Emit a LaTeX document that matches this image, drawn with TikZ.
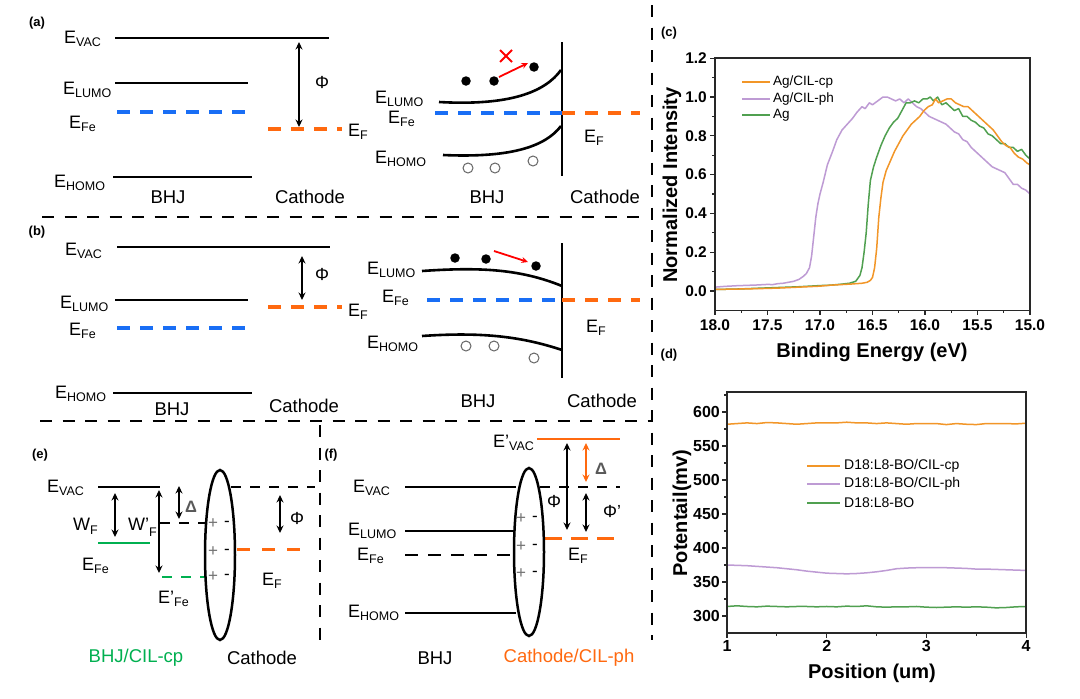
\documentclass[tikz,border=0pt]{standalone}
\usepackage{fontspec}
\setmainfont{Liberation Sans}
\usetikzlibrary{arrows.meta}
\newcommand\fs[1]{\fontsize{#1}{#1}\selectfont}
\newcommand\Es[2]{#1\raisebox{-3pt}{\fs{12.5}#2}}
\definecolor{eblue}{RGB}{25,110,245}
\definecolor{eorange}{RGB}{255,105,15}
\definecolor{egreen}{RGB}{0,176,80}
\definecolor{porange}{RGB}{242,150,40}
\definecolor{ppurple}{RGB}{190,155,212}
\definecolor{pgreen}{RGB}{80,160,80}
\definecolor{axgray}{RGB}{40,40,40}
\begin{document}
\begin{tikzpicture}[x=1pt,y=-1pt,
  lvl/.style={line width=2.6pt},
  ddash/.style={line width=3.2pt, dash pattern=on 13pt off 10pt},
  sdash/.style={line width=2.6pt, dash pattern=on 10pt off 9pt},
  sep/.style={line width=2.6pt, dash pattern=on 12pt off 10.5pt},
  darr/.style={line width=2pt, {Stealth[length=7.5pt,width=7pt]}-{Stealth[length=7.5pt,width=7pt]}},
  redarr/.style={line width=1.8pt, red, -{Stealth[length=6.5pt,width=6pt]}},
  elab/.style={anchor=base west, inner sep=0pt, font=\fs{18}},
  tlab/.style={inner sep=0pt, font=\fs{18.5}},
  plab/.style={inner sep=0pt, font=\fs{13}\bfseries},
  elec/.style={circle, fill=black, inner sep=0pt, minimum size=9.5pt},
  hole/.style={circle, draw=black!60, line width=1pt, inner sep=0pt, minimum size=10pt},
  pm/.style={inner sep=0pt, font=\fs{17}},
  dl/.style={inner sep=0pt, font=\fs{16.5}\bfseries, text=black!65},
  ph/.style={inner sep=0pt, font=\fs{17.5}},
  tick/.style={line width=1.2pt, axgray},
  ctl/.style={inner sep=0pt, font=\fs{15.5}\bfseries},
  ttl/.style={inner sep=0pt, font=\fs{20}\bfseries},
  leg/.style={anchor=west, inner sep=0pt, font=\fs{13.5}},
  curve/.style={line width=1.5pt, line join=round}
]
\useasboundingbox[fill=white] (0,0) rectangle (1080,699);

% ---------- separators ----------
\draw[sep] (42,217) -- (648,217);
\draw[sep] (40,421) -- (652,421);
\draw[sep] (652,5) -- (652,640);
\draw[sep] (320,425) -- (320,647);

% ---------- panel labels ----------
\node[plab] (la) at (37,23) {(a)};
\node[plab] (lb) at (37,232) {(b)};
\node[plab] (le) at (40,455) {(e)};
\node[plab] (lf) at (331,455) {(f)};
\node[plab] (lc) at (669,33) {(c)};
\node[plab] (ld) at (669,355) {(d)};

% ---------- (a) left ----------
\draw[lvl] (115,38) -- (329,38);
\draw[lvl] (115,83) -- (248,83);
\draw[ddash,eblue] (117,112) -- (245,112);
\draw[lvl] (113,177) -- (252,177);
\draw[ddash,eorange] (268,129) -- (342,129);
\coordinate (aPt) at (299,42); \coordinate (aPb) at (299,127);
\draw[darr] (aPt) -- (aPb);
\node[ph] (aPhi) at (322,82) {Φ};
\node[elab] (aVac) at (64,43) {\Es{E}{VAC}};
\node[elab] (aLumo) at (63,94) {\Es{E}{LUMO}};
\node[elab] (aFe) at (69,128) {\Es{E}{Fe}};
\node[elab] (aHomo) at (54,187) {\Es{E}{HOMO}};
\node[elab] (aEF) at (348,136) {\Es{E}{F}};
\node[tlab] (aBHJ) at (168,197) {BHJ};
\node[tlab] (aCat) at (310,197) {Cathode};

% ---------- (a) right ----------
\draw[line width=2.8pt] (562,42) -- (562,176);
\draw[lvl] (439,102) .. controls (510,106) and (545,92) .. (561,70);
\draw[lvl] (443,155) .. controls (510,158) and (545,147) .. (561,126);
\draw[ddash,eblue] (435,113) -- (562,113);
\draw[ddash,eorange] (562,113) -- (640,113);
\node[elec] (ae1) at (466,81) {};
\node[elec] (ae2) at (494,81) {};
\node[elec] (ae3) at (534,67) {};
\draw[redarr] ([xshift=5pt,yshift=4pt]ae2.center) -- ([xshift=-6pt,yshift=4pt]ae3.center);
\draw[red, line width=1.9pt] (500,50) -- (512,62) (512,50) -- (500,62);
\node[hole] (ah1) at (468,168) {};
\node[hole] (ah2) at (495,168) {};
\node[hole] (ah3) at (533,161) {};
\node[elab] (arLumo) at (375,103) {\Es{E}{LUMO}};
\node[elab] (arFe) at (388,123) {\Es{E}{Fe}};
\node[elab] (arHomo) at (375,163) {\Es{E}{HOMO}};
\node[elab] (arEF) at (584,142) {\Es{E}{F}};
\node[tlab] (arBHJ) at (487,197) {BHJ};
\node[tlab] (arCat) at (605,197) {Cathode};

% ---------- (b) left ----------
\draw[lvl] (117,247) -- (330,247);
\draw[lvl] (115,300) -- (248,300);
\draw[ddash,eblue] (117,328) -- (245,328);
\draw[lvl] (113,393) -- (252,393);
\draw[ddash,eorange] (268,307) -- (342,307);
\coordinate (bPt) at (302,256); \coordinate (bPb) at (302,300);
\draw[darr] (bPt) -- (bPb);
\node[ph] (bPhi) at (322,274) {Φ};
\node[elab] (bVac) at (65,255) {\Es{E}{VAC}};
\node[elab] (bLumo) at (60,308) {\Es{E}{LUMO}};
\node[elab] (bFe) at (69,335) {\Es{E}{Fe}};
\node[elab] (bHomo) at (55,398) {\Es{E}{HOMO}};
\node[elab] (bEF) at (348,316) {\Es{E}{F}};
\node[tlab] (bBHJ) at (172,409) {BHJ};
\node[tlab] (bCat) at (304,406) {Cathode};

% ---------- (b) right ----------
\draw[line width=2.8pt] (562,243) -- (562,378);
\draw[lvl] (422,271) .. controls (480,267) and (520,269) .. (562,286);
\draw[lvl] (422,336) .. controls (480,332) and (520,336) .. (562,350);
\draw[ddash,eblue] (427,300) -- (562,300);
\draw[ddash,eorange] (562,300) -- (640,300);
\node[elec] (be1) at (455,258) {};
\node[elec] (be2) at (486,259) {};
\node[elec] (be3) at (536,266) {};
\draw[redarr] ([xshift=8pt,yshift=8pt]be2.center) -- ([xshift=-8pt,yshift=4pt]be3.center);
\node[hole] (bh1) at (466,346) {};
\node[hole] (bh2) at (494,346) {};
\node[hole] (bh3) at (534,358) {};
\node[elab] (brLumo) at (367,274) {\Es{E}{LUMO}};
\node[elab] (brFe) at (382,302) {\Es{E}{Fe}};
\node[elab] (brHomo) at (367,348) {\Es{E}{HOMO}};
\node[elab] (brEF) at (586,332) {\Es{E}{F}};
\node[tlab] (brBHJ) at (478,401) {BHJ};
\node[tlab] (brCat) at (602,401) {Cathode};

% ---------- (e) ----------
\draw[lvl] (98,487) -- (160,487);
\draw[sdash] (160,523) -- (205,523);
\draw[lvl,egreen] (98,543) -- (150,543);
\draw[sdash,egreen] (162,577) -- (205,577);
\draw[sdash] (231,487) -- (315,487);
\draw[line width=3pt, dash pattern=on 13pt off 12pt, eorange] (237,549) -- (311,549);
\draw[line width=2.5pt] (220,555) ellipse [x radius=15, y radius=85];
\draw[darr] (115,493) -- (115,537);
\draw[darr] (159,490) -- (159,573);
\draw[darr] (179,486) -- (179,519);
\draw[darr] (280,495) -- (280,533);
\foreach \yy in {524,552,577}{
  \node[pm,text=black!55] at (213,\yy) {+};
  \node[pm] at (227,\yy) {-};
}
\node[elab] (eVac) at (47,492) {\Es{E}{VAC}};
\node[elab] (eWF) at (73,530) {W\raisebox{-4pt}{\fs{12.5}F}};
\node[elab] (eWpF) at (128,530) {W'\raisebox{-6pt}{\fs{12.5}F}};
\node[elab] (eFe) at (82,570) {\Es{E}{Fe}};
\node[elab] (epFe) at (158,603) {\Es{E'}{Fe}};
\node[elab] (eEF) at (262,585) {\Es{E}{F}};
\node[dl] (eDel) at (191,507) {Δ};
\node[ph] (ePhi) at (297,518) {Φ};
\node[tlab, text=egreen] (eBHJ) at (136,658) {BHJ/CIL-cp};
\node[tlab] (eCat) at (262,658) {Cathode};

% ---------- (f) ----------
\draw[lvl] (405,487) -- (516,487);
\draw[sdash] (540,487) -- (620,487);
\draw[lvl] (405,531) -- (514,531);
\draw[line width=2.6pt, dash pattern=on 13pt off 10pt] (405,555) -- (512,555);
\draw[lvl] (405,613) -- (516,613);
\draw[lvl,eorange] (537,439) -- (620,439);
\draw[line width=3pt, dash pattern=on 17pt off 9pt, eorange] (545,538) -- (617,538);
\draw[line width=2.5pt] (529,552) ellipse [x radius=15, y radius=84];
\draw[darr] (567,443) -- (567,530);
\draw[darr,eorange] (586,443) -- (586,482);
\draw[darr] (586,493) -- (586,532);
\foreach \yy in {519,547,574}{
  \node[pm,text=black!55] at (521,\yy) {+};
  \node[pm] at (535,\yy) {-};
}
\node[elab] (fVac) at (353,492) {\Es{E}{VAC}};
\node[elab] (fLumo) at (348,535) {\Es{E}{LUMO}};
\node[elab] (fFe) at (357,560) {\Es{E}{Fe}};
\node[elab] (fHomo) at (348,617) {\Es{E}{HOMO}};
\node[elab] (fpVac) at (493,447) {\Es{E'}{VAC}};
\node[elab] (fEF) at (568,560) {\Es{E}{F}};
\node[ph] (fPhi) at (554,501) {Φ};
\node[dl] (fDel) at (601,469) {Δ};
\node[ph] (fPhip) at (612,511) {Φ'};
\node[tlab] (fBHJ) at (435,658) {BHJ};
\node[tlab, text=eorange] (fCat) at (569,658) {Cathode/CIL-ph};

% ---------- (c) plot ----------
\begin{scope}[xshift=2605pt, yshift=-291pt, x=-105pt, y=194pt]
  \draw[curve,ppurple] plot coordinates {(18.0,0.020)(17.9,0.024)(17.8,0.027)(17.7,0.029)(17.6,0.031)(17.5,0.034)(17.45,0.033)(17.4,0.038)(17.35,0.040)(17.3,0.045)(17.25,0.050)(17.2,0.060)(17.16,0.075)(17.13,0.09)(17.1,0.12)(17.08,0.18)(17.06,0.28)(17.04,0.38)(17.02,0.45)(17.0,0.50)(16.97,0.56)(16.93,0.65)(16.88,0.72)(16.84,0.78)(16.79,0.83)(16.74,0.86)(16.69,0.89)(16.65,0.92)(16.6,0.95)(16.57,0.94)(16.53,0.97)(16.5,0.96)(16.45,0.98)(16.4,1.0)(16.36,1.0)(16.32,0.99)(16.28,0.98)(16.24,0.99)(16.2,0.97)(16.16,0.99)(16.12,0.97)(16.08,0.95)(16.04,0.94)(16.0,0.92)(15.96,0.9)(15.92,0.89)(15.88,0.88)(15.84,0.87)(15.8,0.86)(15.76,0.84)(15.72,0.82)(15.68,0.81)(15.64,0.78)(15.6,0.77)(15.56,0.74)(15.52,0.72)(15.48,0.7)(15.44,0.68)(15.4,0.66)(15.36,0.64)(15.32,0.63)(15.28,0.62)(15.24,0.61)(15.2,0.58)(15.16,0.55)(15.12,0.55)(15.08,0.53)(15.04,0.52)(15.0,0.50)};
  \draw[curve,pgreen] plot coordinates {(18.0,0.008)(17.9,0.009)(17.8,0.010)(17.7,0.012)(17.6,0.014)(17.5,0.016)(17.4,0.018)(17.3,0.02)(17.2,0.022)(17.1,0.025)(17.0,0.028)(16.9,0.03)(16.8,0.035)(16.72,0.04)(16.66,0.05)(16.62,0.08)(16.6,0.12)(16.58,0.2)(16.56,0.3)(16.54,0.45)(16.52,0.57)(16.49,0.64)(16.46,0.69)(16.42,0.75)(16.38,0.8)(16.34,0.84)(16.3,0.87)(16.26,0.89)(16.22,0.93)(16.18,0.97)(16.14,0.97)(16.1,0.98)(16.06,0.97)(16.02,0.99)(15.98,0.99)(15.95,1.0)(15.92,0.98)(15.88,1.0)(15.84,0.96)(15.8,0.97)(15.76,0.95)(15.72,0.93)(15.68,0.94)(15.64,0.9)(15.6,0.9)(15.56,0.88)(15.52,0.87)(15.48,0.85)(15.44,0.84)(15.4,0.81)(15.36,0.8)(15.32,0.78)(15.28,0.76)(15.24,0.76)(15.2,0.74)(15.16,0.74)(15.12,0.72)(15.08,0.73)(15.04,0.70)(15.0,0.68)};
  \draw[curve,porange] plot coordinates {(18.0,0.008)(17.8,0.010)(17.6,0.012)(17.4,0.015)(17.2,0.02)(17.0,0.025)(16.9,0.03)(16.8,0.033)(16.7,0.036)(16.6,0.04)(16.55,0.045)(16.52,0.055)(16.5,0.07)(16.48,0.12)(16.46,0.22)(16.44,0.38)(16.42,0.48)(16.4,0.56)(16.37,0.62)(16.33,0.67)(16.29,0.72)(16.25,0.76)(16.21,0.8)(16.17,0.83)(16.13,0.86)(16.09,0.88)(16.05,0.9)(16.01,0.93)(15.97,0.95)(15.93,0.96)(15.9,0.99)(15.87,0.97)(15.83,0.98)(15.79,0.99)(15.75,0.99)(15.71,0.97)(15.67,0.96)(15.63,0.95)(15.59,0.95)(15.55,0.93)(15.51,0.91)(15.47,0.89)(15.43,0.87)(15.39,0.85)(15.35,0.83)(15.31,0.8)(15.27,0.77)(15.23,0.75)(15.19,0.74)(15.15,0.71)(15.11,0.69)(15.07,0.68)(15.03,0.66)(15.0,0.65)};
  \draw[line width=1.6pt, axgray] (18,-0.1) rectangle (15,1.2);
  \foreach \v in {0.0,0.2,0.4,0.6,0.8,1.0,1.2}{
    \draw[tick] (18,\v) -- ([xshift=-5pt]18,\v);
    \node[ctl, anchor=east] at ([xshift=-8pt]18,\v) {\v};
  }
  \foreach \v in {0.1,0.3,0.5,0.7,0.9,1.1}{
    \draw[tick] (18,\v) -- ([xshift=-3pt]18,\v);
  }
  \foreach \v in {18.0,17.5,17.0,16.5,16.0,15.5,15.0}{
    \draw[tick] (\v,-0.1) -- ([yshift=-5pt]\v,-0.1);
    \node[ctl, anchor=north] at ([yshift=-9pt]\v,-0.1) {\v};
  }
  \foreach \v in {17.75,17.25,16.75,16.25,15.75,15.25}{
    \draw[tick] (\v,-0.1) -- ([yshift=-3pt]\v,-0.1);
  }
\end{scope}
\draw[line width=1.5pt,porange] (742,82) -- (770,82);
\draw[line width=1.5pt,ppurple] (742,99) -- (770,99);
\draw[line width=1.5pt,pgreen] (742,115) -- (770,115);
\node[leg] (cl1) at (773,82) {Ag/CIL-cp};
\node[leg] (cl2) at (773,99) {Ag/CIL-ph};
\node[leg] (cl3) at (773,115) {Ag};
\node[ttl] (cxt) at (872,352) {Binding Energy (eV)};
\node[ttl, rotate=90] (cyt) at (672,185) {Normalized Intensity};

% ---------- (d) plot ----------
\begin{scope}[xshift=627.3pt, yshift=-820pt, x=99.7pt, y=0.68pt]
  \draw[curve,porange] plot coordinates {(1.0,582)(1.1,583)(1.2,584)(1.3,583)(1.4,584.5)(1.5,584)(1.6,583)(1.7,582)(1.8,583)(1.9,584)(2.0,584)(2.1,584)(2.2,585)(2.3,584)(2.4,584)(2.5,583)(2.6,584)(2.7,583)(2.8,582)(2.9,583)(3.0,583)(3.1,583)(3.2,581.5)(3.3,583)(3.4,582)(3.5,581.5)(3.6,583)(3.7,583)(3.8,583)(3.9,582.5)(4.0,583.5)};
  \draw[curve,ppurple] plot coordinates {(1.0,375)(1.1,374.5)(1.2,374)(1.3,373)(1.4,372)(1.5,371)(1.6,369.5)(1.7,368)(1.8,366)(1.9,364.5)(2.0,363)(2.1,362.5)(2.2,362)(2.3,362.5)(2.4,363.5)(2.5,365)(2.6,367)(2.7,369.5)(2.8,370.5)(2.9,371)(3.0,371)(3.1,371)(3.2,371)(3.3,370.5)(3.4,370)(3.5,369)(3.6,369)(3.7,368.5)(3.8,368)(3.9,367.5)(4.0,367)};
  \draw[curve,pgreen] plot coordinates {(1.0,314)(1.1,315)(1.2,314)(1.3,313.5)(1.4,314.5)(1.5,314)(1.6,313.5)(1.7,314)(1.8,314)(1.9,313.5)(2.0,314)(2.1,313.5)(2.2,314.5)(2.3,314)(2.4,315)(2.5,313.5)(2.6,313)(2.7,313.5)(2.8,313.5)(2.9,314)(3.0,313)(3.1,312.5)(3.2,313)(3.3,313.5)(3.4,313)(3.5,313.5)(3.6,313)(3.7,312)(3.8,312.5)(3.9,313.5)(4.0,314)};
  \draw[line width=1.6pt, axgray] (1,275) rectangle (4,629.5);
  \foreach \v in {300,350,400,450,500,550,600}{
    \draw[tick] (1,\v) -- ([xshift=-5pt]1,\v);
    \node[ctl, font=\fs{16}\bfseries, anchor=east] at ([xshift=-7pt]1,\v) {\v};
  }
  \foreach \v in {325,375,425,475,525,575,625}{
    \draw[tick] (1,\v) -- ([xshift=-3pt]1,\v);
  }
  \foreach \v in {1,2,3,4}{
    \draw[tick] (\v,275) -- ([yshift=-5pt]\v,275);
    \node[ctl, font=\fs{16}\bfseries, anchor=north] at ([yshift=-7pt]\v,275) {\v};
  }
  \foreach \v in {1.5,2.5,3.5}{
    \draw[tick] (\v,275) -- ([yshift=-3pt]\v,275);
  }
\end{scope}
\draw[line width=1.5pt,porange] (807,466) -- (840,466);
\draw[line width=1.5pt,ppurple] (807,484) -- (840,484);
\draw[line width=1.5pt,pgreen] (807,503) -- (840,503);
\node[leg, font=\fs{14}] (dl1) at (844,466) {D18:L8-BO/CIL-cp};
\node[leg, font=\fs{14}] (dl2) at (844,484) {D18:L8-BO/CIL-ph};
\node[leg, font=\fs{14}] (dl3) at (844,503) {D18:L8-BO};
\node[ttl] (dxt) at (872,673) {Position (um)};
\node[ttl, rotate=90] (dyt) at (682,513) {Potentail(mv)};
\end{tikzpicture}
\end{document}
